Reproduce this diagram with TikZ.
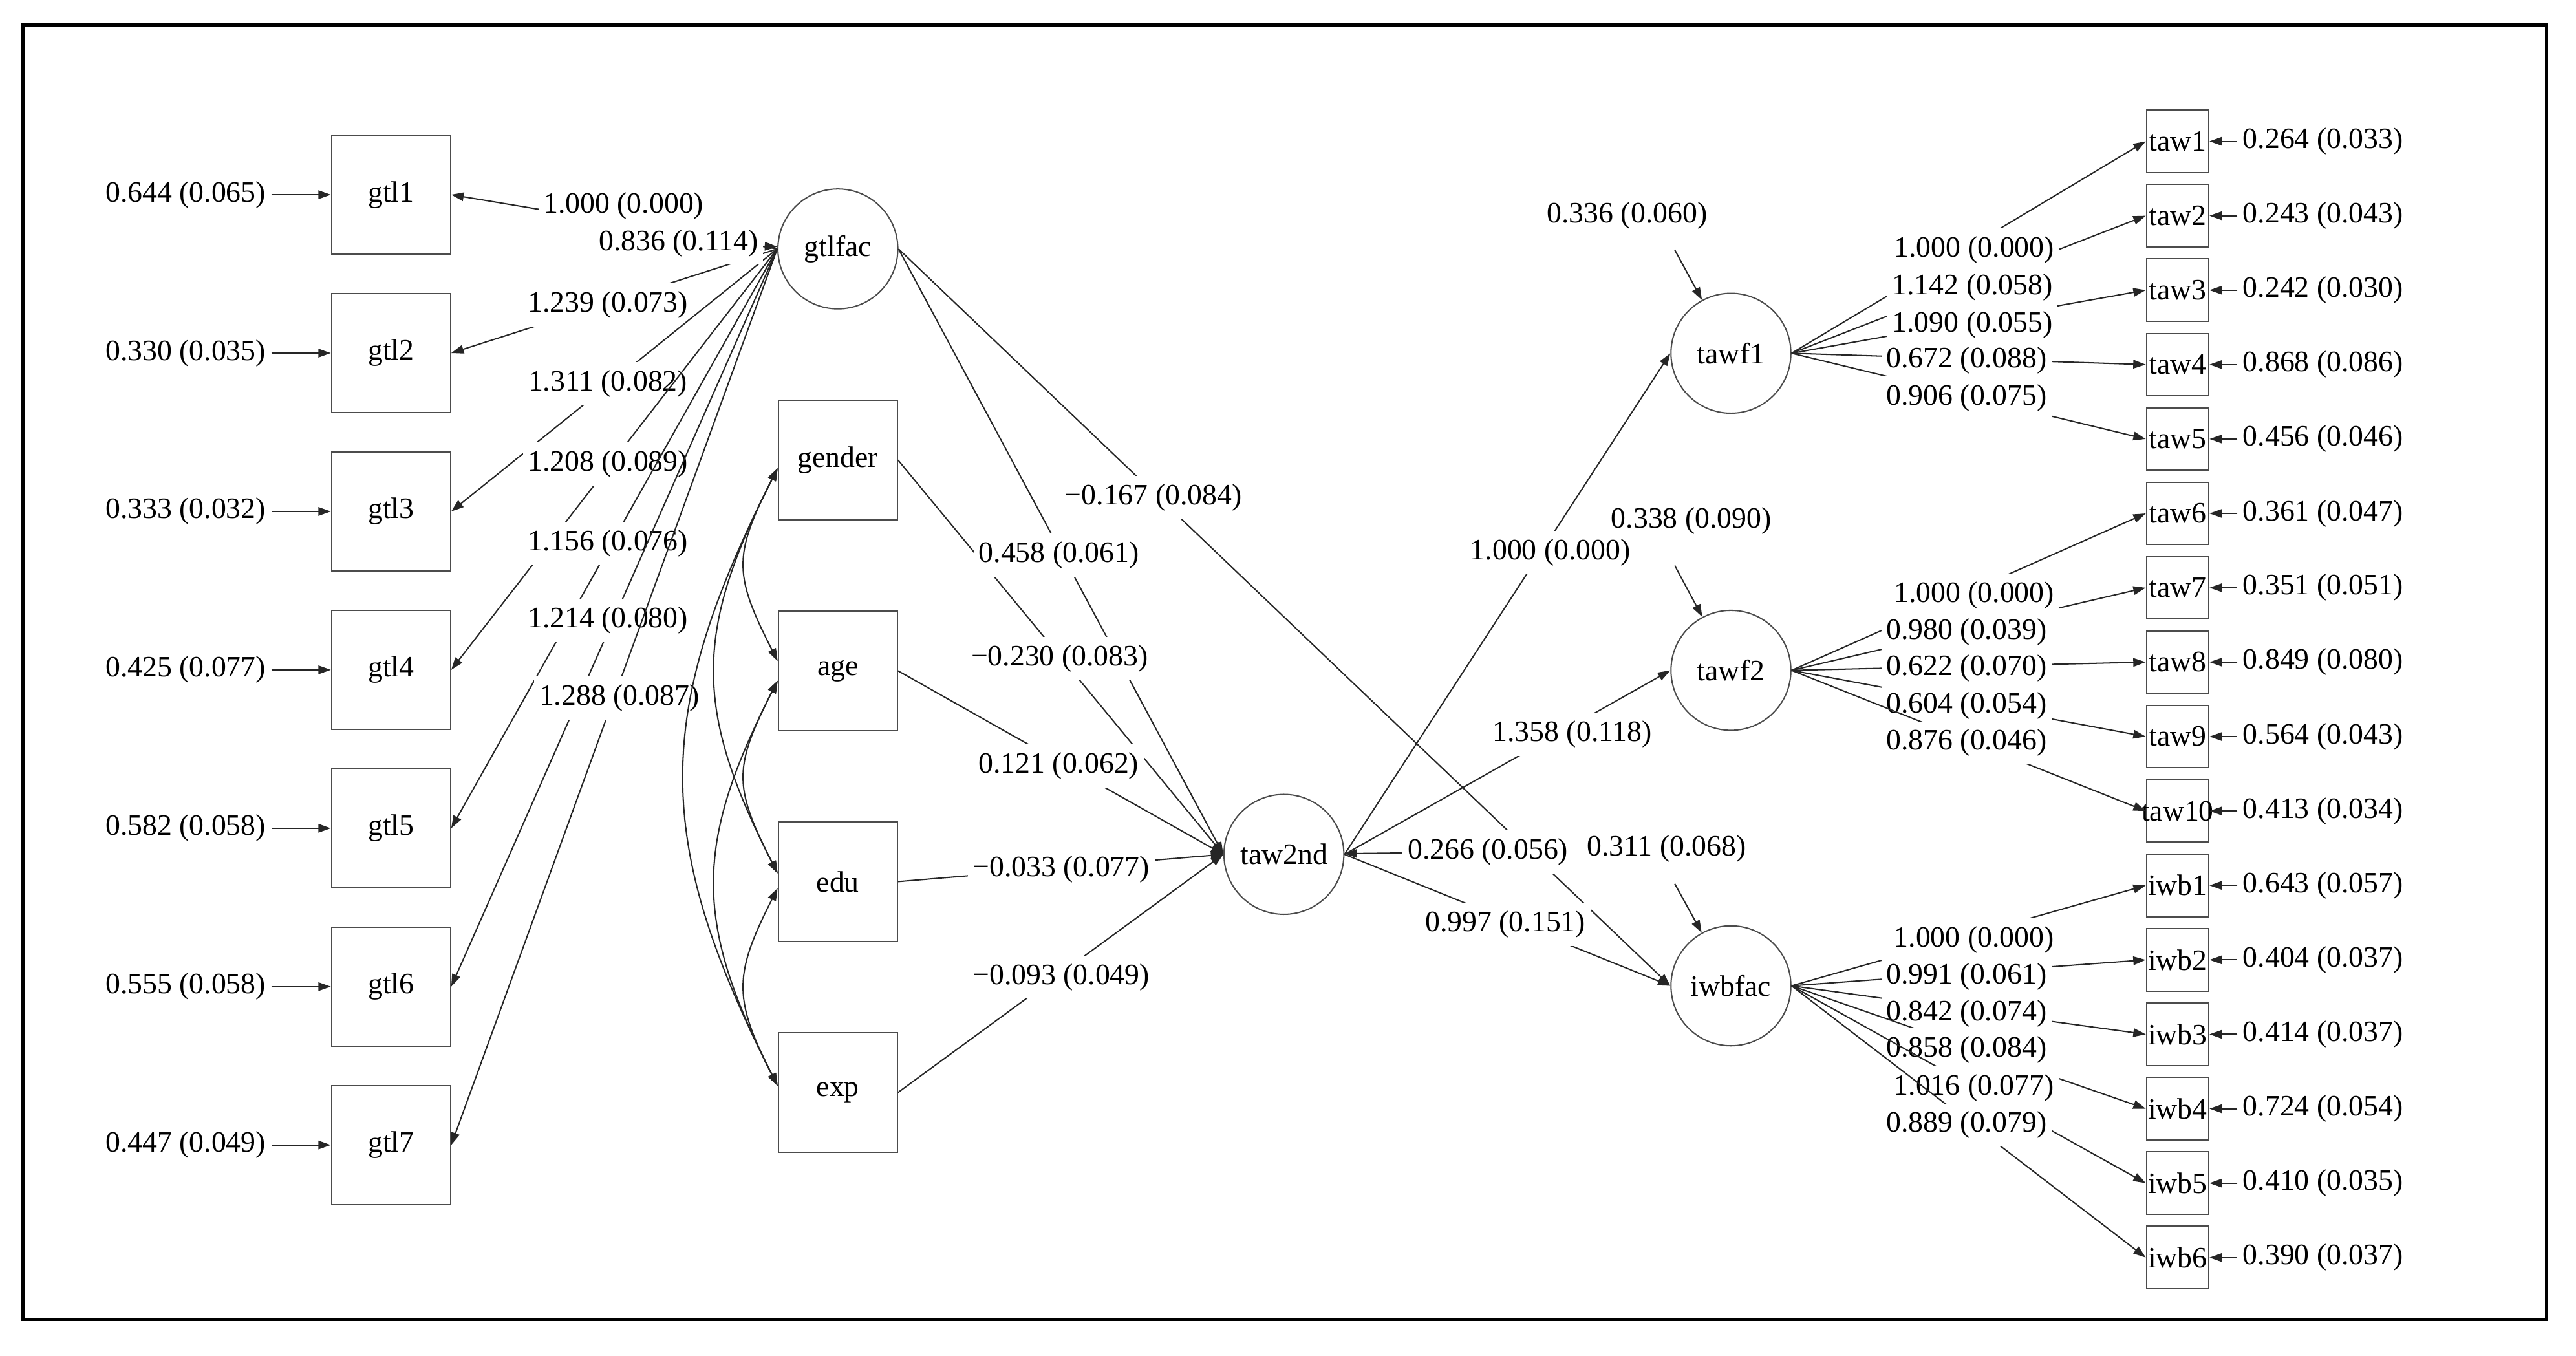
\documentclass[tikz,border=0pt]{standalone}
\usepackage{fontspec}
\setmainfont{Liberation Serif}
\usetikzlibrary{arrows.meta}

\begin{document}
\begin{tikzpicture}[
x=0.5pt, y=0.5pt,
every node/.style={font=\fontsize{9}{10}\selectfont},
observed/.style={rectangle, draw=black!70, line width=0.4pt, minimum size=36.25pt, inner sep=0pt},
indicator/.style={rectangle, draw=black!70, line width=0.4pt, minimum size=19pt, inner sep=0pt},
latent/.style={circle, draw=black!70, line width=0.4pt, minimum size=36.5pt, inner sep=0pt},
estimate/.style={fill=white, inner xsep=1.5pt, inner ysep=2.5pt},
variance/.style={inner xsep=1.5pt, inner ysep=2.5pt},
effect/.style={draw=black!85, line width=0.4pt, -{Triangle[length=3.8pt, width=2.6pt]}},
covar/.style={draw=black!85, line width=0.4pt, {Triangle[length=3.8pt, width=2.6pt]}-{Triangle[length=3.8pt, width=2.6pt]}},
]
\fill[white] (0,0) rectangle (1568,-825);
\draw[line width=1.1pt] (14,-15) rectangle (1550,-803);

% left block
\node[observed] (gtl1) at (238,-118.5) {gtl1};
\node[observed] (gtl2) at (238,-214.9) {gtl2};
\node[observed] (gtl3) at (238,-311.3) {gtl3};
\node[observed] (gtl4) at (238,-407.7) {gtl4};
\node[observed] (gtl5) at (238,-504.1) {gtl5};
\node[observed] (gtl6) at (238,-600.5) {gtl6};
\node[observed] (gtl7) at (238,-696.9) {gtl7};
\node[latent] (gtlfac) at (510,-151.5) {gtlfac};
\node[observed] (gender) at (510,-280) {gender};
\node[observed] (age) at (510,-408.3) {age};
\node[observed] (edu) at (510,-536.6) {edu};
\node[observed] (exp) at (510,-664.9) {exp};
\node[latent] (taw2nd) at (781.5,-520) {taw2nd};
\node[latent] (tawf1) at (1053.6,-215) {tawf1};
\node[latent] (tawf2) at (1053.6,-408) {tawf2};
\node[latent] (iwbfac) at (1053.6,-600) {iwbfac};

% right block
\node[indicator] (taw1) at (1325.5,-86) {taw1};
\node[indicator] (taw2) at (1325.5,-131.3) {taw2};
\node[indicator] (taw3) at (1325.5,-176.6) {taw3};
\node[indicator] (taw4) at (1325.5,-221.9) {taw4};
\node[indicator] (taw5) at (1325.5,-267.2) {taw5};
\node[indicator] (taw6) at (1325.5,-312.5) {taw6};
\node[indicator] (taw7) at (1325.5,-357.7) {taw7};
\node[indicator] (taw8) at (1325.5,-403) {taw8};
\node[indicator] (taw9) at (1325.5,-448.3) {taw9};
\node[indicator] (taw10) at (1325.5,-493.6) {\makebox[0pt]{taw10}};
\node[indicator] (iwb1) at (1325.5,-538.9) {iwb1};
\node[indicator] (iwb2) at (1325.5,-584.2) {iwb2};
\node[indicator] (iwb3) at (1325.5,-629.5) {iwb3};
\node[indicator] (iwb4) at (1325.5,-674.8) {iwb4};
\node[indicator] (iwb5) at (1325.5,-720.1) {iwb5};
\node[indicator] (iwb6) at (1325.5,-765.4) {iwb6};

% residual variances, left
\node[variance] (egtl1) at (113,-118.5) {0.644 (0.065)};
\node[variance] (egtl2) at (113,-214.9) {0.330 (0.035)};
\node[variance] (egtl3) at (113,-311.3) {0.333 (0.032)};
\node[variance] (egtl4) at (113,-407.7) {0.425 (0.077)};
\node[variance] (egtl5) at (113,-504.1) {0.582 (0.058)};
\node[variance] (egtl6) at (113,-600.5) {0.555 (0.058)};
\node[variance] (egtl7) at (113,-696.9) {0.447 (0.049)};
\draw[effect] (egtl1) -- (gtl1);
\draw[effect] (egtl2) -- (gtl2);
\draw[effect] (egtl3) -- (gtl3);
\draw[effect] (egtl4) -- (gtl4);
\draw[effect] (egtl5) -- (gtl5);
\draw[effect] (egtl6) -- (gtl6);
\draw[effect] (egtl7) -- (gtl7);

% residual variances, right
\node[variance] (etaw1) at (1414,-86) {0.264 (0.033)};
\node[variance] (etaw2) at (1414,-131.3) {0.243 (0.043)};
\node[variance] (etaw3) at (1414,-176.6) {0.242 (0.030)};
\node[variance] (etaw4) at (1414,-221.9) {0.868 (0.086)};
\node[variance] (etaw5) at (1414,-267.2) {0.456 (0.046)};
\node[variance] (etaw6) at (1414,-312.5) {0.361 (0.047)};
\node[variance] (etaw7) at (1414,-357.7) {0.351 (0.051)};
\node[variance] (etaw8) at (1414,-403) {0.849 (0.080)};
\node[variance] (etaw9) at (1414,-448.3) {0.564 (0.043)};
\node[variance] (etaw10) at (1414,-493.6) {0.413 (0.034)};
\node[variance] (eiwb1) at (1414,-538.9) {0.643 (0.057)};
\node[variance] (eiwb2) at (1414,-584.2) {0.404 (0.037)};
\node[variance] (eiwb3) at (1414,-629.5) {0.414 (0.037)};
\node[variance] (eiwb4) at (1414,-674.8) {0.724 (0.054)};
\node[variance] (eiwb5) at (1414,-720.1) {0.410 (0.035)};
\node[variance] (eiwb6) at (1414,-765.4) {0.390 (0.037)};
\draw[effect] (etaw1) -- (taw1);
\draw[effect] (etaw2) -- (taw2);
\draw[effect] (etaw3) -- (taw3);
\draw[effect] (etaw4) -- (taw4);
\draw[effect] (etaw5) -- (taw5);
\draw[effect] (etaw6) -- (taw6);
\draw[effect] (etaw7) -- (taw7);
\draw[effect] (etaw8) -- (taw8);
\draw[effect] (etaw9) -- (taw9);
\draw[effect] (etaw10) -- (taw10);
\draw[effect] (eiwb1) -- (iwb1);
\draw[effect] (eiwb2) -- (iwb2);
\draw[effect] (eiwb3) -- (iwb3);
\draw[effect] (eiwb4) -- (iwb4);
\draw[effect] (eiwb5) -- (iwb5);
\draw[effect] (eiwb6) -- (iwb6);

% gtlfac loadings
\draw[effect] (gtlfac.west) -- (gtl1.east);
\node[estimate] (lgtl1) at (379.5,-125.5) {1.000 (0.000)};
\draw[effect] (gtlfac.west) -- (gtl2.east);
\node[estimate] (lgtl2) at (370,-185.7) {1.239 (0.073)};
\draw[effect] (gtlfac.west) -- (gtl3.east);
\node[estimate] (lgtl3) at (370,-233.4) {1.311 (0.082)};
\draw[effect] (gtlfac.west) -- (gtl4.east);
\node[estimate] (lgtl4) at (370,-282.4) {1.208 (0.089)};
\draw[effect] (gtlfac.west) -- (gtl5.east);
\node[estimate] (lgtl5) at (370,-330.8) {1.156 (0.076)};
\draw[effect] (gtlfac.west) -- (gtl6.east);
\node[estimate] (lgtl6) at (370,-377.7) {1.214 (0.080)};
\draw[effect] (gtlfac.west) -- (gtl7.east);
\node[estimate] (lgtl7) at (377,-425) {1.288 (0.087)};
\node[estimate] (vgtlfac) at (413,-148) {0.836 (0.114)};
\draw[effect] (vgtlfac) -- (gtlfac);

% covariances among the covariates
\draw[covar] ([yshift=-2.5pt]gender.west) .. controls +(-27,-53) and +(-27,53) .. ([yshift=3pt]age.west);
\draw[covar] ([yshift=-2.5pt]gender.west) .. controls +(-51,-100) and +(-51,100) .. ([yshift=2.5pt]edu.west);
\draw[covar] ([yshift=-2.5pt]gender.west) .. controls +(-76,-150) and +(-76,150) .. ([yshift=2pt]exp.west);
\draw[covar] ([yshift=-3pt]age.west) .. controls +(-27,-53) and +(-27,53) .. ([yshift=2.5pt]edu.west);
\draw[covar] ([yshift=-3pt]age.west) .. controls +(-51,-100) and +(-51,100) .. ([yshift=2pt]exp.west);
\draw[covar] ([yshift=-2pt]edu.west) .. controls +(-27,-53) and +(-27,53) .. ([yshift=2pt]exp.west);

% structural part
\draw[effect] (gtlfac.east) -- (taw2nd.west);
\draw[effect] (gtlfac.east) -- (iwbfac.west);
\draw[effect] (gender.east) -- (taw2nd.west);
\draw[effect] (age.east) -- (taw2nd.west);
\draw[effect] (edu.east) -- (taw2nd.west);
\draw[effect] (exp.east) -- (taw2nd.west);
\draw[effect] (taw2nd.east) -- (tawf1.west);
\draw[effect] (taw2nd.east) -- (tawf2.west);
\draw[effect] (taw2nd.east) -- (iwbfac.west);
\node[estimate] (bgtl) at (644.5,-337.9) {0.458 (0.061)};
\node[estimate] (bgtliwb) at (702,-302.9) {−0.167 (0.084)};
\node[estimate] (bgender) at (645,-401) {−0.230 (0.083)};
\node[estimate] (bage) at (644.4,-466.3) {0.121 (0.062)};
\node[estimate] (bedu) at (645.9,-529.1) {−0.033 (0.077)};
\node[estimate] (bexp) at (645.9,-594.7) {−0.093 (0.049)};
\node[estimate] (ltawf1) at (943.7,-336.3) {1.000 (0.000)};
\node[estimate] (ltawf2) at (957,-446.8) {1.358 (0.118)};
\node[estimate] (biwb) at (916.3,-562.5) {0.997 (0.151)};
\node[estimate] (vtaw2nd) at (905.7,-518.5) {0.266 (0.056)};
\draw[effect] (vtaw2nd) -- (taw2nd);

% factor variances
\node[variance] (vtawf1) at (990.4,-131.1) {0.336 (0.060)};
\node[variance] (vtawf2) at (1029.5,-317.1) {0.338 (0.090)};
\node[variance] (viwbfac) at (1014.4,-516.6) {0.311 (0.068)};
\coordinate (ptawf1) at (1019.4,-152.1);
\coordinate (ptawf2) at (1019.4,-344.2);
\coordinate (piwbfac) at (1019.4,-537.9);
\draw[effect] (ptawf1) -- (tawf1);
\draw[effect] (ptawf2) -- (tawf2);
\draw[effect] (piwbfac) -- (iwbfac);

% tawf1 loadings
\draw[effect] (tawf1.east) -- (taw1.west);
\draw[effect] (tawf1.east) -- (taw2.west);
\node[estimate] (ltaw1) at (1201.6,-152) {1.000 (0.000)};
\node[estimate] (ltaw2) at (1200.6,-175.1) {1.142 (0.058)};
\draw[effect] (tawf1.east) -- (taw3.west);
\node[estimate] (ltaw3) at (1200.6,-197.6) {1.090 (0.055)};
\draw[effect] (tawf1.east) -- (taw4.west);
\node[estimate] (ltaw4) at (1197,-219.5) {0.672 (0.088)};
\draw[effect] (tawf1.east) -- (taw5.west);
\node[estimate] (ltaw5) at (1197,-242.3) {0.906 (0.075)};

% tawf2 loadings
\draw[effect] (tawf2.east) -- (taw6.west);
\draw[effect] (tawf2.east) -- (taw7.west);
\node[estimate] (ltaw6) at (1201.6,-362.1) {1.000 (0.000)};
\node[estimate] (ltaw7) at (1197,-384.6) {0.980 (0.039)};
\draw[effect] (tawf2.east) -- (taw8.west);
\node[estimate] (ltaw8) at (1197,-406.9) {0.622 (0.070)};
\draw[effect] (tawf2.east) -- (taw9.west);
\node[estimate] (ltaw9) at (1197,-429.4) {0.604 (0.054)};
\draw[effect] (tawf2.east) -- (taw10.west);
\node[estimate] (ltaw10) at (1197,-452.2) {0.876 (0.046)};

% iwbfac loadings
\draw[effect] (iwbfac.east) -- (iwb1.west);
\node[estimate] (liwb1) at (1201.4,-572.1) {1.000 (0.000)};
\draw[effect] (iwbfac.east) -- (iwb2.west);
\node[estimate] (liwb2) at (1197,-594.6) {0.991 (0.061)};
\draw[effect] (iwbfac.east) -- (iwb3.west);
\node[estimate] (liwb3) at (1197,-616.9) {0.842 (0.074)};
\draw[effect] (iwbfac.east) -- (iwb4.west);
\node[estimate] (liwb4) at (1197,-639) {0.858 (0.084)};
\draw[effect] (iwbfac.east) -- (iwb5.west);
\node[estimate] (liwb5) at (1201.4,-662) {1.016 (0.077)};
\draw[effect] (iwbfac.east) -- (iwb6.west);
\node[estimate] (liwb6) at (1197,-684.8) {0.889 (0.079)};
\end{tikzpicture}
\end{document}
